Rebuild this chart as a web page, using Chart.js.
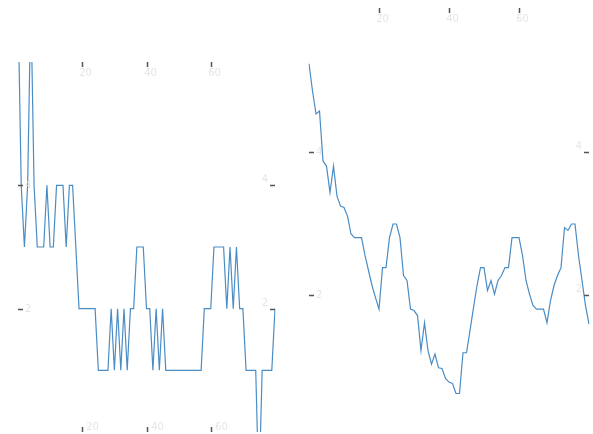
<!DOCTYPE html>
<html>
<head>
<meta charset="utf-8">
<script src="https://cdn.jsdelivr.net/npm/chart.js@4.4.1/dist/chart.umd.min.js"></script>
<style>
  html, body { margin: 0; padding: 0; background: #fff; overflow: hidden; }
  body { width: 593px; height: 434px; position: relative; }
  #left { position: absolute; left: 0; top: 0; }
  #right { position: absolute; left: 296px; top: 0; }
</style>
</head>
<body>
<canvas id="left" width="296" height="434"></canvas>
<canvas id="right" width="297" height="445"></canvas>
<script>
// step values, one per x position (0..80)
const leftValues = [
  7, 4, 3, 4, 7, 4, 3, 3, 3, 4,
  3, 3, 4, 4, 4, 3, 4, 4, 3, 2,
  2, 2, 2, 2, 2, 1, 1, 1, 1, 2,
  1, 2, 1, 2, 1, 2, 2, 3, 3, 3,
  2, 2, 1, 2, 1, 2, 1, 1, 1, 1,
  1, 1, 1, 1, 1, 1, 1, 1, 2, 2,
  2, 3, 3, 3, 3, 2, 3, 2, 3, 2,
  2, 1, 1, 1, 1, -1, 1, 1, 1, 1,
  2
];
const rightValues = [
  5.23, 4.85, 4.53, 4.57, 3.87, 3.80, 3.43, 3.80, 3.38, 3.24,
  3.22, 3.10, 2.85, 2.80, 2.80, 2.80, 2.55, 2.34, 2.13, 1.96,
  1.80, 2.38, 2.38, 2.80, 2.99, 2.99, 2.80, 2.27, 2.20, 1.80,
  1.78, 1.71, 1.22, 1.61, 1.22, 1.03, 1.17, 0.98, 0.97, 0.83,
  0.78, 0.76, 0.62, 0.62, 1.19, 1.19, 1.50, 1.82, 2.13, 2.38,
  2.38, 2.06, 2.20, 2.01, 2.20, 2.27, 2.38, 2.38, 2.80, 2.80,
  2.80, 2.55, 2.20, 2.01, 1.85, 1.80, 1.80, 1.80, 1.61, 1.92,
  2.13, 2.27, 2.38, 2.94, 2.90, 2.99, 2.99, 2.55, 2.20, 1.85,
  1.59
];
const xLabels = leftValues.map((v, i) => i);
const xTicks = [20, 40, 60];
const yTicks = [2, 4];

const LINE = '#4a8cc4';

// small inward tick marks on all four sides, faint labels inside
const innerTicks = {
  id: 'innerTicks',
  afterDraw(chart, args, opts) {
    const {ctx, chartArea: a, scales: {x, y}} = chart;
    ctx.save();
    ctx.strokeStyle = '#555';
    ctx.lineWidth = 1.5;
    ctx.fillStyle = '#e6e6e6';
    ctx.font = '10px "DejaVu Sans"';
    ctx.textAlign = 'center';
    ctx.textBaseline = 'top';
    xTicks.forEach(v => {
      const px = Math.round(x.getPixelForValue(v)) + 0.5;
      ctx.beginPath();
      ctx.moveTo(px, a.top); ctx.lineTo(px, a.top + 5);
      ctx.moveTo(px, a.bottom); ctx.lineTo(px, a.bottom - 5);
      ctx.stroke();
      ctx.fillText(String(v), px + 3, a.top + 6);
      if (opts.bottomLabels) ctx.fillText(String(v), px + 10, a.bottom - 10);
    });
    ctx.textBaseline = 'middle';
    yTicks.forEach(v => {
      const py = Math.round(y.getPixelForValue(v)) + 0.5;
      ctx.beginPath();
      ctx.moveTo(a.left, py); ctx.lineTo(a.left + 5, py);
      ctx.moveTo(a.right, py); ctx.lineTo(a.right - 5, py);
      ctx.stroke();
      ctx.textAlign = 'left';
      ctx.fillText(String(v), a.left + 7, py);
      ctx.textAlign = 'right';
      ctx.fillText(String(v), a.right - 7, py - 6);
    });
    ctx.restore();
  }
};

function makeChart(id, values, padding, yMin, yMax, bottomLabels) {
  return new Chart(document.getElementById(id), {
    type: 'line',
    data: {
      labels: xLabels,
      datasets: [{
        data: values,
        borderColor: LINE,
        borderWidth: 1.2,
        pointRadius: 0,
        tension: 0,
        fill: false
      }]
    },
    options: {
      responsive: false,
      animation: false,
      layout: { padding: padding },
      plugins: {
        legend: { display: false },
        tooltip: { enabled: false },
        innerTicks: { bottomLabels: bottomLabels }
      },
      scales: {
        x: { type: 'category', display: false, offset: false },
        y: { type: 'linear', display: false, min: yMin, max: yMax }
      }
    },
    plugins: [innerTicks]
  });
}

makeChart('left', leftValues, { left: 18, top: 62, right: 21, bottom: 2 }, 0, 6, true);
makeChart('right', rightValues, { left: 13, top: 8, right: 4, bottom: 5 }, -0.03, 6.01, false);
</script>
</body>
</html>
